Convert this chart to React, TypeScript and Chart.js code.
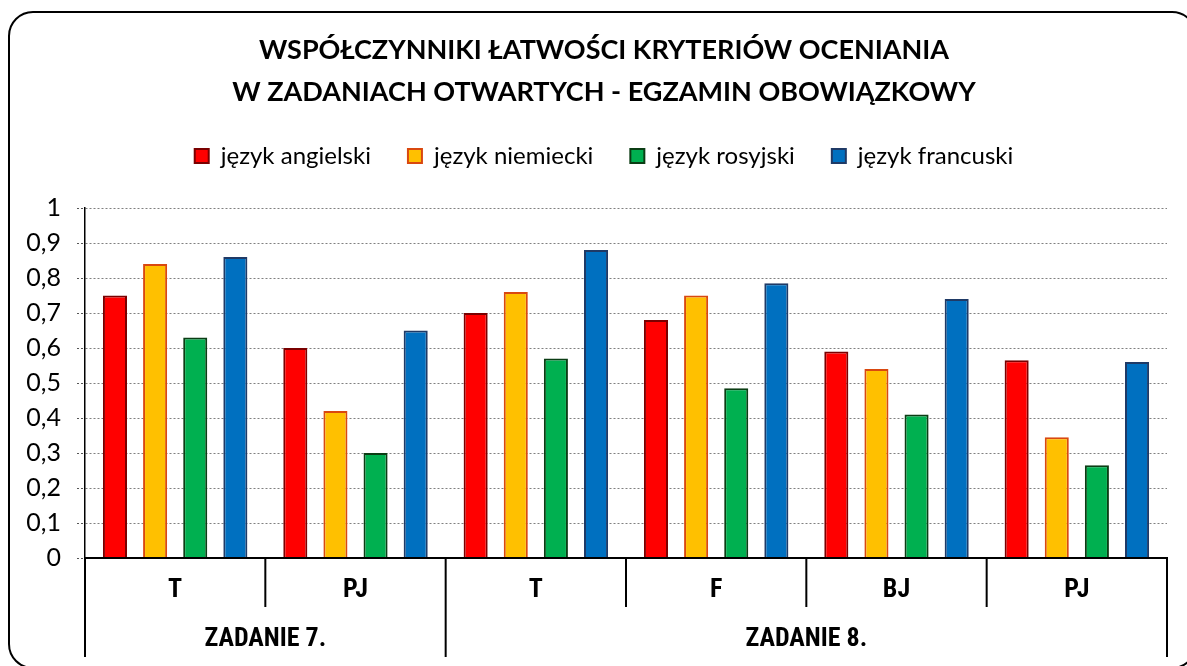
import React, { useEffect, useRef } from 'react';
import { Chart, registerables } from 'chart.js';

Chart.register(...registerables);

const categories = ['T', 'PJ', 'T', 'F', 'BJ', 'PJ'];
const groupLabels = ['ZADANIE 7.', 'ZADANIE 8.'];
const groupSizes = [2, 4];
const seriesNames = ['język angielski', 'język niemiecki', 'język rosyjski', 'język francuski'];
const english = [0.75, 0.6, 0.7, 0.68, 0.59, 0.565];
const german = [0.84, 0.42, 0.76, 0.75, 0.54, 0.345];
const russian = [0.63, 0.3, 0.57, 0.485, 0.41, 0.265];
const french = [0.86, 0.65, 0.88, 0.785, 0.74, 0.56];
const yTickLabels = ['0', '0,1', '0,2', '0,3', '0,4', '0,5', '0,6', '0,7', '0,8', '0,9', '1'];
const titleLines = [
  'WSPÓŁCZYNNIKI ŁATWOŚCI KRYTERIÓW OCENIANIA',
  'W ZADANIACH OTWARTYCH - EGZAMIN OBOWIĄZKOWY',
];

const fillColors = ['#FF0000', '#FFC000', '#00B050', '#0070C0'];
const edgeColors = ['#7A0000', '#D9480F', '#0B3D14', '#1F3A66'];

const framePlugin = {
  id: 'frame',
  afterLayout(chart: any) {
    // centre the title and legend on the framed chart box rather than the canvas
    const shift = 41;
    if (chart.titleBlock) chart.titleBlock.left += shift;
    if (chart.legend) chart.legend.left += shift;
  },
  beforeDraw(chart: any) {
    const ctx = chart.ctx;
    ctx.save();
    ctx.strokeStyle = '#000';
    ctx.lineWidth = 2;
    ctx.beginPath();
    ctx.roundRect(9, 12, 1187, 656, 24);
    ctx.stroke();
    ctx.restore();
  },
};

const axisPlugin = {
  id: 'groupAxis',
  afterDraw(chart: any) {
    const ctx = chart.ctx;
    const xs = chart.scales.x;
    const { left, right, bottom } = chart.chartArea;
    const centers = categories.map((_, i) => xs.getPixelForValue(i));
    const bounds = [left];
    for (let i = 0; i < centers.length - 1; i++) bounds.push((centers[i] + centers[i + 1]) / 2);
    bounds.push(right);
    const groupEdges = [0];
    groupSizes.forEach((s) => groupEdges.push(groupEdges[groupEdges.length - 1] + s));
    ctx.save();
    ctx.strokeStyle = '#000';
    ctx.lineWidth = 2;
    ctx.beginPath();
    ctx.moveTo(left - 1, bottom);
    ctx.lineTo(right + 1, bottom);
    bounds.forEach((b, i) => {
      const isGroup = groupEdges.includes(i);
      ctx.moveTo(b, bottom);
      ctx.lineTo(b, bottom + (isGroup ? 99 : 49));
    });
    ctx.stroke();
    ctx.fillStyle = '#000';
    ctx.textAlign = 'center';
    ctx.textBaseline = 'middle';
    ctx.font = 'bold 26px "Liberation Sans Narrow", "Roboto Condensed", Roboto, sans-serif';
    categories.forEach((c, i) => ctx.fillText(c, centers[i], bottom + 32));
    groupLabels.forEach((g, gi) => {
      const x = (bounds[groupEdges[gi]] + bounds[groupEdges[gi + 1]]) / 2;
      ctx.fillText(g, x, bottom + 81);
    });
    ctx.restore();
  },
};

export default function App() {
  const ref = useRef<HTMLCanvasElement>(null);
  useEffect(() => {
    const series = [english, german, russian, french];
    const chart = new Chart(ref.current as HTMLCanvasElement, {
      type: 'bar',
      data: {
        labels: categories,
        datasets: series.map((d, i) => ({
          label: seriesNames[i],
          data: d,
          backgroundColor: fillColors[i],
          borderColor: edgeColors[i],
          borderWidth: 2,
          categoryPercentage: 0.89,
          barPercentage: 0.6,
        })),
      },
      options: {
        responsive: false,
        animation: false,
        layout: { padding: { top: 29, left: 0, right: 20, bottom: 0 } },
        plugins: {
          tooltip: { enabled: false },
          title: {
            display: true,
            text: titleLines,
            color: '#000',
            font: { family: 'Lato', size: 27, weight: 'bold', lineHeight: '42px' },
            padding: { top: 0, bottom: -6 },
          },
          legend: {
            display: true,
            labels: {
              color: '#000',
              font: { family: 'Lato', size: 24 },
              boxWidth: 14,
              boxHeight: 14,
              padding: 37,
            },
          },
          subtitle: {
            display: true,
            text: '',
            weight: 500,
            padding: 0,
            font: { size: 10, lineHeight: '30px' },
          } as any,
        },
        scales: {
          x: {
            grid: { display: false },
            border: { display: false },
            ticks: { display: false },
            afterFit(scale: any) {
              scale.height = 108;
            },
          },
          y: {
            min: 0,
            max: 1,
            ticks: {
              stepSize: 0.1,
              color: '#000',
              padding: 16,
              font: { family: 'Lato', size: 25 },
              callback: (_v: any, i: number) => yTickLabels[i],
            },
            grid: {
              color: '#808080',
              lineWidth: 1,
              tickLength: 8,
              tickColor: '#555',
              tickBorderDash: [2, 2],
            } as any,
            border: { display: true, color: '#000', width: 1.5, dash: [2, 2] },
            afterFit(scale: any) {
              scale.width = 85;
            },
          },
        },
      } as any,
      plugins: [framePlugin, axisPlugin],
    });
    return () => chart.destroy();
  }, []);
  return (
    <div style={{ position: 'absolute', left: 0, top: 0 }}>
      <canvas ref={ref} width={1187} height={666} />
    </div>
  );
}
